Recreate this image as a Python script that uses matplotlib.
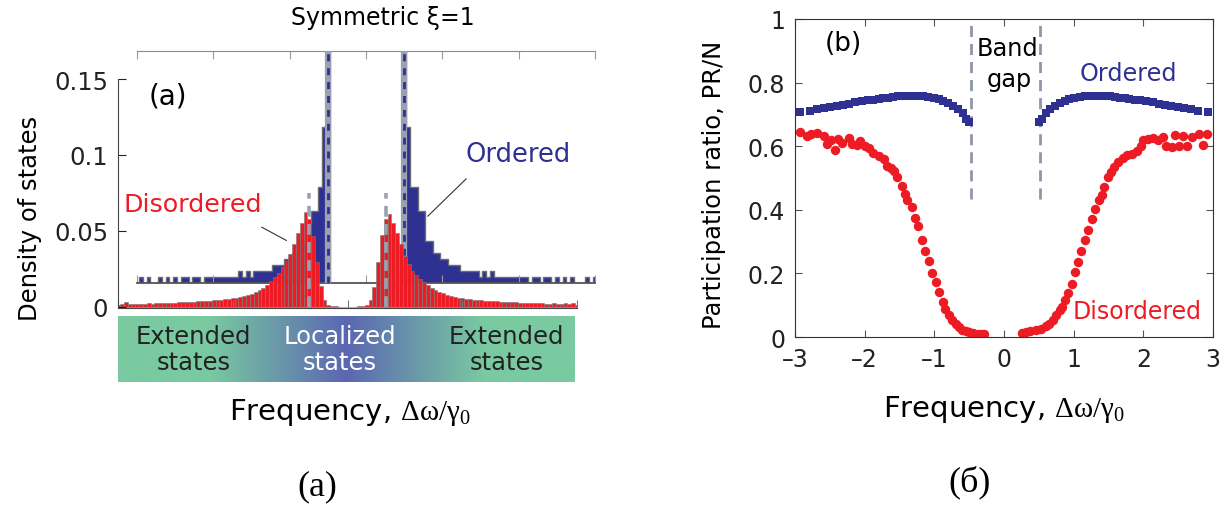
import numpy as np
import matplotlib
matplotlib.use("Agg")
import matplotlib.pyplot as plt
from matplotlib.colors import LinearSegmentedColormap

plt.rcParams['font.family'] = ['DejaVu Sans']
# upright serif Greek for the frequency label
plt.rcParams['mathtext.fontset'] = 'custom'
plt.rcParams['mathtext.rm'] = 'Liberation Serif'
plt.rcParams['mathtext.default'] = 'rm'

# ---------------- data: panel (a), density of states ----------------
# bin centres of both histograms, step 0.05 from -3 to 3
bin_centers = np.round(np.linspace(-3.0, 3.0, 121), 2)

# disordered lattice, density of states per bin
dos_disordered = [
    0.0012, 0.0018, 0.0030, 0.0016, 0.0019, 0.0017, 0.0021, 0.0019, 0.0022, 0.0020,
    0.0024, 0.0022, 0.0026, 0.0025, 0.0028, 0.0027, 0.0029, 0.0030, 0.0031, 0.0033,
    0.0034, 0.0036, 0.0037, 0.0039, 0.0041, 0.0043, 0.0045, 0.0047, 0.0050, 0.0053,
    0.0056, 0.0060, 0.0064, 0.0070, 0.0077, 0.0085, 0.0095, 0.0108, 0.0126, 0.0145,
    0.0168, 0.0195, 0.0225, 0.0260, 0.0300, 0.0347, 0.0412, 0.0483, 0.0555, 0.0621,
    0.0577, 0.0467, 0.0296, 0.0138, 0.0044, 0.0012, 0.0005, 0.0002, 0.0, 0.0,
    0.0,
    0.0, 0.0, 0.0002, 0.0004, 0.0013, 0.0046, 0.0132, 0.0296, 0.0472, 0.0577,
    0.0610, 0.0555, 0.0485, 0.0412, 0.0335, 0.0280, 0.0237, 0.0208, 0.0186, 0.0164,
    0.0143, 0.0124, 0.0110, 0.0099, 0.0088, 0.0078, 0.0071, 0.0066, 0.0061, 0.0057,
    0.0053, 0.0049, 0.0046, 0.0044, 0.0042, 0.0040, 0.0039, 0.0037, 0.0035, 0.0034,
    0.0033, 0.0031, 0.0030, 0.0031, 0.0028, 0.0026, 0.0027, 0.0024, 0.0026, 0.0022,
    0.0024, 0.0021, 0.0020, 0.0023, 0.0018, 0.0020, 0.0028, 0.0017, 0.0024, 0.0015,
]

# ordered lattice, number of states per bin
counts_ordered = [
    0, 1, 0, 1, 0, 0, 1, 0, 1, 0,
    1, 0, 1, 1, 0, 1, 1, 0, 1, 1,
    1, 1, 1, 1, 1, 1, 1, 2, 1, 2,
    1, 2, 2, 2, 2, 2, 3, 3, 3, 4,
    4, 5, 5, 7, 7, 10, 12, 12, 16, 26,
    45, 0, 0, 0, 0, 0, 0, 0, 0, 0,
    0,
    0, 0, 0, 0, 0, 0, 0, 0, 0, 45,
    26, 16, 16, 12, 12, 7, 7, 5, 5, 4,
    4, 3, 3, 3, 2, 2, 2, 2, 2, 1,
    2, 1, 2, 1, 1, 1, 1, 1, 1, 1,
    1, 1, 0, 1, 1, 0, 1, 1, 0, 1,
    0, 1, 0, 1, 0, 0, 0, 1, 0, 1,
]

band_edges_a = [-0.5, 0.5]
dos_yticks = [0, 0.05, 0.1, 0.15]
dos_yticklabels = ['0', '0.05', '0.1', '0.15']
region_labels = ['Extended\nstates', 'Localized\nstates', 'Extended\nstates']

# ---------------- data: panel (b), participation ratio ----------------
ord_left_x = [-2.93, -2.78, -2.69, -2.59, -2.50, -2.40, -2.31, -2.23, -2.14, -2.04,
              -1.95, -1.88, -1.80, -1.73, -1.66, -1.59, -1.52, -1.44, -1.37, -1.30,
              -1.23, -1.16, -1.09, -1.01, -0.94, -0.87, -0.80, -0.73, -0.66, -0.59,
              -0.54, -0.50]
ord_left_y = [0.707, 0.712, 0.717, 0.720, 0.724, 0.727, 0.731, 0.734, 0.738, 0.741,
              0.744, 0.746, 0.748, 0.751, 0.753, 0.755, 0.757, 0.758, 0.759, 0.759,
              0.759, 0.758, 0.756, 0.753, 0.748, 0.743, 0.737, 0.727, 0.717, 0.703,
              0.686, 0.675]
ord_right_x = [0.505, 0.55, 0.60, 0.66, 0.73, 0.80, 0.87, 0.94, 1.01, 1.09,
               1.16, 1.23, 1.30, 1.37, 1.44, 1.52, 1.59, 1.66, 1.73, 1.80,
               1.88, 1.95, 2.04, 2.14, 2.23, 2.31, 2.40, 2.50, 2.59, 2.69,
               2.78, 2.93]
ord_right_y = [0.675, 0.686, 0.703, 0.717, 0.727, 0.737, 0.743, 0.748, 0.753, 0.756,
               0.758, 0.759, 0.759, 0.759, 0.758, 0.757, 0.755, 0.753, 0.751, 0.748,
               0.746, 0.744, 0.741, 0.738, 0.734, 0.731, 0.727, 0.724, 0.720, 0.717,
               0.712, 0.707]

dis_left_x = [-2.93, -2.83, -2.77, -2.68, -2.59, -2.54, -2.49, -2.42, -2.38, -2.32,
              -2.23, -2.18, -2.11, -2.07, -1.99, -1.94, -1.88, -1.80, -1.72, -1.68,
              -1.62, -1.58, -1.53, -1.47, -1.42, -1.39, -1.32, -1.28, -1.23, -1.17,
              -1.13, -1.08, -1.03, -0.98, -0.93, -0.88, -0.84, -0.79, -0.74, -0.69,
              -0.65, -0.60, -0.55, -0.50, -0.45, -0.41, -0.36, -0.32, -0.28]
dis_left_y = [0.644, 0.633, 0.638, 0.641, 0.633, 0.607, 0.621, 0.588, 0.623, 0.610,
              0.626, 0.607, 0.604, 0.617, 0.602, 0.594, 0.579, 0.568, 0.560, 0.537,
              0.530, 0.523, 0.502, 0.476, 0.450, 0.431, 0.408, 0.374, 0.348, 0.306,
              0.271, 0.238, 0.201, 0.174, 0.141, 0.111, 0.088, 0.069, 0.054, 0.041,
              0.030, 0.023, 0.018, 0.015, 0.012, 0.011, 0.010, 0.010, 0.010]
dis_right_x = [0.26, 0.31, 0.38, 0.46, 0.53, 0.60, 0.65, 0.70, 0.75, 0.80,
               0.83, 0.88, 0.92, 0.97, 1.02, 1.06, 1.11, 1.16, 1.21, 1.26,
               1.31, 1.36, 1.41, 1.44, 1.49, 1.54, 1.58, 1.64, 1.71, 1.77,
               1.84, 1.91, 1.96, 2.00, 2.06, 2.14, 2.21, 2.28, 2.33, 2.41,
               2.46, 2.51, 2.57, 2.63, 2.70, 2.80, 2.86, 2.92]
dis_right_y = [0.013, 0.016, 0.018, 0.021, 0.026, 0.034, 0.042, 0.052, 0.068, 0.084,
               0.094, 0.115, 0.139, 0.168, 0.204, 0.236, 0.270, 0.304, 0.337, 0.370,
               0.403, 0.430, 0.445, 0.471, 0.503, 0.518, 0.534, 0.550, 0.563, 0.571,
               0.576, 0.586, 0.602, 0.618, 0.623, 0.625, 0.618, 0.628, 0.602, 0.597,
               0.635, 0.602, 0.631, 0.602, 0.628, 0.639, 0.604, 0.639]

band_edges_b = [-0.48, 0.52]
pr_xticks = [-3, -2, -1, 0, 1, 2, 3]
pr_xticklabels = ['\u20133', '\u20132', '\u20131', '0', '1', '2', '3']
pr_yticks = [0, 0.2, 0.4, 0.6, 0.8, 1.0]
pr_yticklabels = ['0', '0.2', '0.4', '0.6', '0.8', '1']

RED = '#ed1c24'
BLUE = '#2e3192'
GRAY = '#9aa2b2'
W, H = 1230, 506
FREQ_LABEL = r'Frequency, $\Delta\omega/\gamma_0$'


def frac(x0, y0, x1, y1):
    """pixel box (top-left origin) -> figure rect"""
    return [x0 / W, 1 - y1 / H, (x1 - x0) / W, (y1 - y0) / H]


fig = plt.figure(figsize=(12.3, 5.06), dpi=100)

# ---- ordered histogram (shifted inset, drawn underneath) ----
ax_o = fig.add_axes(frac(137, 52, 595, 284))
ax_o.patch.set_visible(False)
edges = np.append(bin_centers - 0.025, bin_centers[-1] + 0.025)
ax_o.stairs(counts_ordered, edges, fill=True, facecolor=BLUE,
            edgecolor='#6d6e71', linewidth=1.0)
for xb in band_edges_a:
    ax_o.axvline(xb, color=GRAY, lw=4.5, zorder=3)
    ax_o.axvline(xb, color=BLUE, lw=2, ls=(0, (2.5, 2.5)), zorder=4)
ax_o.set_xlim(-3, 3)
ax_o.set_ylim(0, 38.7)
for s in ['left', 'right']:
    ax_o.spines[s].set_visible(False)
ax_o.spines['top'].set_color('#8c8c8c')
ax_o.spines['bottom'].set_color('#555555')
ax_o.spines['bottom'].set_linewidth(1.3)
ax_o.set_xticks([-3, -2, -1, 0, 1, 2, 3])
ax_o.set_yticks([])
ax_o.tick_params(axis='x', direction='in', top=True, bottom=True, length=6,
                 color='#9a9a9a', labelbottom=False)

# ---- disordered histogram (main axes) ----
ax_d = fig.add_axes(frac(118, 80, 577, 309))
ax_d.patch.set_visible(False)
ax_d.bar(bin_centers, dos_disordered, width=0.05, color=RED,
         edgecolor='#7a7a7a', linewidth=0.4)
for xb in band_edges_a:
    ax_d.plot([xb, xb], [0, 0.075], color=GRAY, lw=2.6, ls=(0, (3, 2)))
ax_d.set_xlim(-3, 3)
ax_d.set_ylim(-0.0008, 0.15)
for s in ['top', 'right']:
    ax_d.spines[s].set_visible(False)
for s in ['left', 'bottom']:
    ax_d.spines[s].set_color('#444444')
ax_d.set_xticks([-3, -1.5, 0, 1.5, 3])
ax_d.set_xticklabels([])
ax_d.set_yticks(dos_yticks)
ax_d.set_yticklabels(dos_yticklabels)
ax_d.tick_params(direction='in', length=6, labelsize=17.5, pad=7,
                 colors='#222222')
ax_d.tick_params(axis='x', color='#777777')

ax_d.text(-2.35, 0.139, '(a)', fontsize=20, ha='center', va='center')
ax_d.text(-2.02, 0.0678, 'Disordered', color=RED, fontsize=18.3,
          ha='center', va='center')
ax_d.plot([-1.12, -0.80], [0.0524, 0.0437], color='#333333', lw=0.8)
ax_d.text(2.23, 0.1007, 'Ordered', color=BLUE, fontsize=18.5,
          ha='center', va='center')
ax_d.plot([1.55, 1.05], [0.0842, 0.0597], color='#333333', lw=0.8)

fig.text(383 / W, 1 - 18 / H, 'Symmetric \u03be=1', fontsize=17,
         ha='center', va='center')
fig.text(30 / W, 1 - 218 / H, 'Density of states', fontsize=17.5,
         rotation=90, ha='center', va='center')

# ---- gradient strip ----
ax_g = fig.add_axes(frac(118, 317, 575, 383))
strip_cmap = LinearSegmentedColormap.from_list(
    'strip', [(0.0, '#79c9a1'), (0.2, '#79c9a1'), (0.5, '#5b67b2'),
              (0.8, '#79c9a1'), (1.0, '#79c9a1')])
ax_g.imshow(np.linspace(0, 1, 256)[None, :], aspect='auto', cmap=strip_cmap,
            extent=[0, 1, 0, 1])
ax_g.set_axis_off()
for xc, lab, col in zip([0.165, 0.485, 0.85], region_labels,
                        ['#222222', 'white', '#222222']):
    ax_g.text(xc, 0.5, lab, ha='center', va='center', fontsize=17.5,
              color=col, linespacing=1.15)

fig.text(350 / W, 1 - 413 / H, FREQ_LABEL, fontsize=21,
         ha='center', va='center')

# ---- panel (b) ----
ax_b = fig.add_axes(frac(795, 20, 1213, 338))
for xb in band_edges_b:
    ax_b.plot([xb, xb], [0.435, 1.0], color='#8e97a8', lw=2,
              ls=(0, (4, 2.5)))
ax_b.plot(ord_left_x, ord_left_y, 's', color=BLUE, ms=5.8, mew=0)
ax_b.plot(ord_right_x, ord_right_y, 's', color=BLUE, ms=5.8, mew=0)
ax_b.plot(dis_left_x, dis_left_y, 'o', color=RED, ms=6.8, mew=0)
ax_b.plot(dis_right_x, dis_right_y, 'o', color=RED, ms=6.8, mew=0)
ax_b.set_xlim(-3, 3)
ax_b.set_ylim(0, 1)
ax_b.set_xticks(pr_xticks)
ax_b.set_xticklabels(pr_xticklabels)
ax_b.set_yticks(pr_yticks)
ax_b.set_yticklabels(pr_yticklabels)
for s in ax_b.spines.values():
    s.set_color('#333333')
ax_b.tick_params(direction='in', top=True, right=True, length=5,
                 labelsize=17, pad=7, colors='#222222')
ax_b.tick_params(color='#555555')

ax_b.text(-2.30, 0.925, '(b)', fontsize=19, ha='center', va='center')
ax_b.text(0.05, 0.91, 'Band', fontsize=17.3, ha='center', va='center')
ax_b.text(0.07, 0.81, 'gap', fontsize=17.3, ha='center', va='center')
ax_b.text(1.78, 0.83, 'Ordered', color=BLUE, fontsize=17.2,
          ha='center', va='center')
ax_b.text(1.91, 0.083, 'Disordered', color=RED, fontsize=17,
          ha='center', va='center')

fig.text(714 / W, 1 - 185 / H, 'Participation ratio, PR/N', fontsize=17.5,
         rotation=90, ha='center', va='center')
fig.text(1004 / W, 1 - 410 / H, FREQ_LABEL, fontsize=21,
         ha='center', va='center')

# ---- captions ----
fig.text(317 / W, 1 - 487 / H, '(a)', family='Liberation Serif',
         fontsize=26, ha='center', va='center')
fig.text(970 / W, 1 - 482 / H, '(\u0431)', family='Liberation Serif',
         fontsize=26, ha='center', va='center')

fig.savefig('out.png', dpi=100)
